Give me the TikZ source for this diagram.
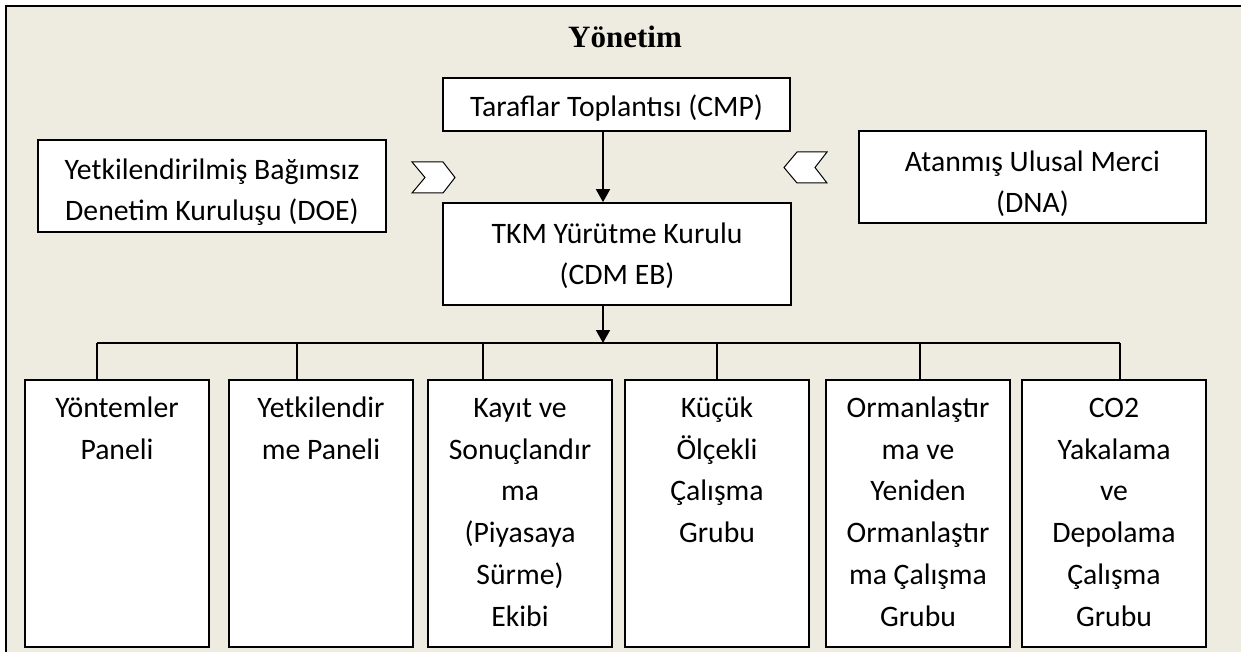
\documentclass[tikz,border=0pt]{standalone}
\usepackage{fontspec}
\setmainfont{Carlito}
\newfontfamily\titlefont{Liberation Serif}
\usetikzlibrary{arrows.meta}
\definecolor{paper}{HTML}{EEECE1}
\newcommand{\arw}{-{Triangle[length=13pt,width=14pt]}}
\newcommand{\panelbox}[1]{\begin{minipage}[t][250pt][t]{180pt}\centering\strut#1\end{minipage}}

\begin{document}
\begin{tikzpicture}[x=1pt,y=-1pt,line width=1.7pt,
  box/.style={draw,fill=white,align=center,inner sep=2pt,font=\fontsize{29.7}{41.7}\selectfont},
  panel/.style={box,anchor=north,minimum width=184pt,inner ysep=8.5pt}]
\fill[white] (0,0) rectangle (1241,652);
\useasboundingbox (0,0) rectangle (1241,652);
%frame
\fill[paper] (6,6) rectangle (1241,652);
\draw (6,652) -- (6,6) -- (1241,6);
\node[anchor=base,font=\titlefont\bfseries\fontsize{31}{36}\selectfont] (title) at (625,48) {Yönetim};
%upper boxes
\node[box,minimum width=347pt,minimum height=53pt] (cmp) at (616.5,104.5) {\rule{0pt}{28pt}Taraflar Toplantısı (CMP)};
\node[box,minimum width=348pt,minimum height=92pt] (doe) at (212,186) {\rule{0pt}{33pt}Yetkilendirilmiş Bağımsız\\Denetim Kuruluşu (DOE)};
\node[box,minimum width=347pt,minimum height=92pt] (dna) at (1032.5,177) {\rule{0pt}{34pt}Atanmış Ulusal Merci\\(DNA)};
\node[box,minimum width=348pt,minimum height=102pt] (eb) at (617,254) {\rule{0pt}{24pt}TKM Yürütme Kurulu\\(CDM EB)};
%chevrons
\draw[line width=1pt,fill=white] (412,162) -- (443,162) -- (455,177.5) -- (443,193) -- (412,193) -- (425,177.5) -- cycle;
\draw[line width=1pt,fill=white] (827,152) -- (797,152) -- (784,167.5) -- (797,183) -- (827,183) -- (815,167.5) -- cycle;
%panels
\node[panel] (methods) at (117,379) {\panelbox{Yöntemler\\Paneli}};
\node[panel] (accred) at (321,379) {\panelbox{Yetkilendir\\me Paneli}};
\node[panel] (regist) at (520,379) {\panelbox{Kayıt ve\\Sonuçlandır\\ma\\(Piyasaya\\Sürme)\\Ekibi}};
\node[panel] (smallscale) at (717,379) {\panelbox{Küçük\\Ölçekli\\Çalışma\\Grubu}};
\node[panel] (afforest) at (918,379) {\panelbox{Ormanlaştır\\ma ve\\Yeniden\\Ormanlaştır\\ma Çalışma\\Grubu}};
\node[panel] (ccs) at (1114,379) {\panelbox{CO2\\Yakalama\\ve\\Depolama\\Çalışma\\Grubu}};
%connectors
\coordinate (spine) at (603,0);
\coordinate (busL) at (97,343);
\coordinate (busR) at (1120,343);
\draw[\arw] (cmp.south -| spine) -- (eb.north -| spine);
\draw[\arw] (eb.south -| spine) -- (spine |- busL);
\draw (busL) -- (busR);
\foreach \x/\n in {97/methods,297/accred,483/regist,717/smallscale,920/afforest,1120/ccs}
  \draw (\x,343) -- (\n.north -| \x,0);
\end{tikzpicture}
\end{document}
